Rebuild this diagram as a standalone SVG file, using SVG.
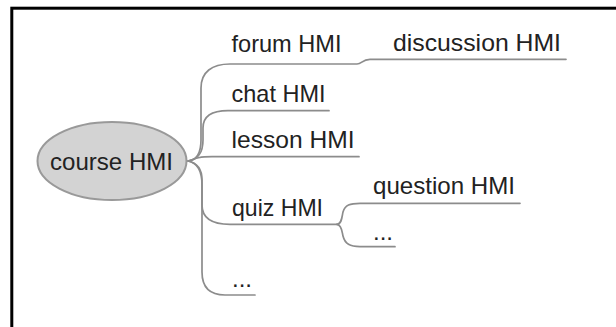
<svg xmlns="http://www.w3.org/2000/svg" width="616" height="327" viewBox="0 0 616 327">
<style>
.t{font-family:"Liberation Sans",Arial,sans-serif;font-size:24px;fill:#222}
.c{fill:none;stroke:#8c8c8c;stroke-width:1.7;stroke-linecap:round}
</style>
<rect x="0" y="0" width="616" height="327" fill="#fff"/>
<rect x="11.8" y="8.2" width="640" height="360" fill="none" stroke="#000" stroke-width="3"/>
<g id="connectors">
<path class="c" d="M188,161 C198,160 201,152 201,140 L201,88 C201,72 212,64 230,64 L357,64 C362,64 362,59.3 370,59.3 L566,59.3"/>
<path class="c" d="M188,161 C198,160 203,152 203,140 L203,128 C203,116 212,110.7 228,110.7 L329,110.7"/>
<path class="c" d="M188,161 C196,158 200,156.7 212,156.7 L359,156.7"/>
<path class="c" d="M188,161 C198,163 202,170 202,180 L202,205 C202,218 212,224.3 230,224.3 L337,224.3"/>
<path class="c" d="M188,161 C198,163 202,172 202,185 L202,272 C202,287 210,295 225,295 L255,295"/>
<path class="c" d="M337,224.3 C342,224 342,216 343,212 C345,205 350,203.3 360,203.3 L520,203.3"/>
<path class="c" d="M337,224.3 C342,225 342,232 343,236 C345,244 350,246.7 360,246.7 L395,246.7"/>
</g>
<g id="course">
<ellipse cx="112" cy="161" rx="74.5" ry="39" fill="#d3d3d3" stroke="#999" stroke-width="2"/>
<text class="t" x="50" y="169.5" textLength="123" lengthAdjust="spacingAndGlyphs">course HMI</text>
</g>
<g id="forum"><text class="t" x="231.5" y="52" textLength="110" lengthAdjust="spacingAndGlyphs">forum HMI</text></g>
<g id="discussion"><text class="t" x="393" y="51" textLength="168" lengthAdjust="spacingAndGlyphs">discussion HMI</text></g>
<g id="chat"><text class="t" x="231.5" y="102" textLength="94" lengthAdjust="spacingAndGlyphs">chat HMI</text></g>
<g id="lesson"><text class="t" x="231.5" y="148" textLength="123" lengthAdjust="spacingAndGlyphs">lesson HMI</text></g>
<g id="quiz"><text class="t" x="232" y="215.5" textLength="91" lengthAdjust="spacingAndGlyphs">quiz HMI</text></g>
<g id="question"><text class="t" x="373" y="193.5" textLength="142" lengthAdjust="spacingAndGlyphs">question HMI</text></g>
<g id="quiz-more"><text class="t" x="373" y="240">...</text></g>
<g id="more"><text class="t" x="232" y="287">...</text></g>
</svg>
